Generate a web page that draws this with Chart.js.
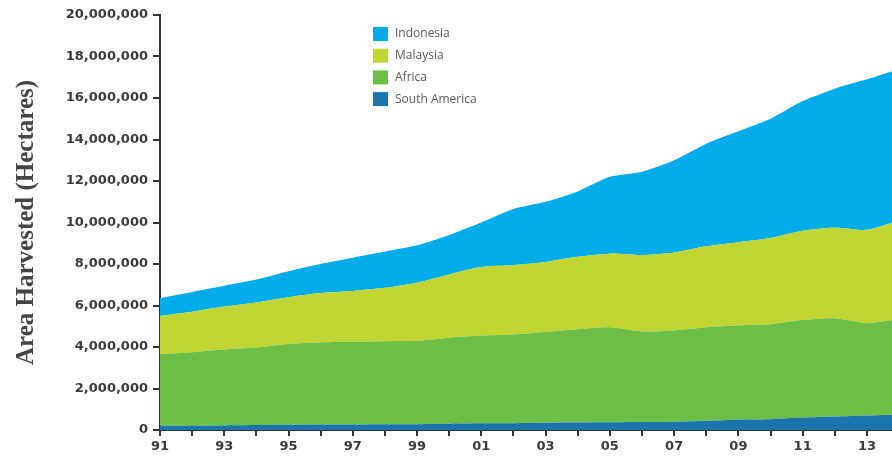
<!DOCTYPE html>
<html>
<head>
<meta charset="utf-8">
<script src="https://cdn.jsdelivr.net/npm/chart.js@4"></script>
<style>
  html, body { margin: 0; padding: 0; background: #fff; }
  #wrap { width: 892px; height: 456px; }
</style>
</head>
<body>
<div id="wrap"><canvas id="palmChart"></canvas></div>
<script>
// area harvested, hectares (stacked bottom-up: South America, Africa, Malaysia, Indonesia)
const years = [1991, 1992, 1993, 1994, 1995, 1996, 1997, 1998, 1999, 2000, 2001, 2002,
  2003, 2004, 2005, 2006, 2007, 2008, 2009, 2010, 2011, 2012, 2013, 2014];
const southAmerica = [200000, 200000, 220000, 240000, 250000, 260000, 270000, 280000, 280000, 300000, 320000, 330000,
  350000, 360000, 370000, 380000, 400000, 450000, 500000, 520000, 600000, 650000, 700000, 750000];
const africa = [3450000, 3550000, 3660000, 3740000, 3900000, 3960000, 3980000, 4000000, 4020000, 4150000, 4230000, 4270000,
  4370000, 4490000, 4580000, 4370000, 4400000, 4500000, 4550000, 4580000, 4700000, 4730000, 4450000, 4600000];
const malaysia = [1850000, 1950000, 2070000, 2170000, 2250000, 2380000, 2450000, 2570000, 2800000, 3050000, 3300000, 3350000,
  3380000, 3500000, 3550000, 3680000, 3750000, 3900000, 4000000, 4150000, 4300000, 4370000, 4500000, 4750000];
const indonesia = [850000, 950000, 1000000, 1100000, 1250000, 1400000, 1600000, 1750000, 1800000, 1900000, 2150000, 2700000,
  2900000, 3150000, 3700000, 4020000, 4450000, 4950000, 5350000, 5750000, 6250000, 6700000, 7250000, 7300000];

const xTickYears = [1991, 1993, 1995, 1997, 1999, 2001, 2003, 2005, 2007, 2009, 2011, 2013];
const xTickLabels = ["91", "93", "95", "97", "99", "01", "03", "05", "07", "09", "11", "13"];
const yTicks = [0, 2000000, 4000000, 6000000, 8000000, 10000000, 12000000, 14000000, 16000000, 18000000, 20000000];

const toPoints = (vals) => vals.map((v, i) => ({ x: years[i], y: v }));

const axisFont = { family: "DejaVu Sans", size: 13, weight: "bold" };

// legend drawn inside the plot, top-down order like the original
const legendBox = {
  id: "legendBox",
  afterDraw(chart) {
    const ctx = chart.ctx;
    const items = chart.data.datasets.slice().reverse();
    ctx.save();
    ctx.font = '12px "Open Sans"';
    ctx.textBaseline = "middle";
    items.forEach((ds, i) => {
      const y = 34 + i * 21.7;
      ctx.fillStyle = ds.backgroundColor;
      ctx.fillRect(373, y - 7, 15, 14);
      ctx.fillStyle = "#5a5a5a";
      ctx.fillText(ds.label, 395, y);
    });
    ctx.restore();
  },
};

const ctx = document.getElementById("palmChart").getContext("2d");
const palmChart = new Chart(ctx, {
  type: "line",
  data: {
    datasets: [
      { label: "South America", data: toPoints(southAmerica), backgroundColor: "#1B74AC", fill: "origin" },
      { label: "Africa", data: toPoints(africa), backgroundColor: "#6CBE45", fill: "-1" },
      { label: "Malaysia", data: toPoints(malaysia), backgroundColor: "#C0D432", fill: "-1" },
      { label: "Indonesia", data: toPoints(indonesia), backgroundColor: "#00ADEA", fill: "-1" },
    ],
  },
  options: {
    responsive: true,
    maintainAspectRatio: false,
    animation: false,
    layout: { padding: { top: 15, right: 0, bottom: 0, left: 0 } },
    elements: {
      point: { radius: 0 },
      line: { borderWidth: 0, tension: 0.25 },
    },
    scales: {
      x: {
        type: "linear",
        min: 1991,
        max: 2013.78,
        grid: { drawOnChartArea: false, tickLength: 6, color: "#333", lineWidth: 2 },
        border: { color: "#333", width: 2 },
        afterBuildTicks: (scale) => {
          scale.ticks = years.filter((y) => y <= 2013).map((y) => ({ value: y }));
        },
        afterFit: (scale) => { scale.height = 26; },
        ticks: {
          autoSkip: false,
          maxRotation: 0,
          padding: 3,
          color: "#3a3a3a",
          font: axisFont,
          callback: (v) => {
            const i = xTickYears.indexOf(v);
            return i >= 0 ? xTickLabels[i] : "";
          },
        },
      },
      y: {
        stacked: true,
        min: 0,
        max: 20000000,
        grid: { drawOnChartArea: false, tickLength: 7, color: "#333", lineWidth: 2 },
        border: { color: "#333", width: 2 },
        afterBuildTicks: (scale) => {
          scale.ticks = yTicks.map((v) => ({ value: v }));
        },
        afterFit: (scale) => { scale.width = 160; },
        ticks: {
          padding: 5,
          color: "#3a3a3a",
          font: axisFont,
          callback: (v) => v.toLocaleString("en-US"),
        },
        title: {
          display: true,
          text: "Area Harvested (Hectares)",
          color: "#444",
          font: { family: "Liberation Serif", size: 25, weight: "bold" },
          padding: { top: 12, bottom: 0 },
        },
      },
    },
    plugins: {
      legend: { display: false },
      tooltip: { enabled: false },
    },
  },
  plugins: [legendBox],
});
</script>
</body>
</html>
